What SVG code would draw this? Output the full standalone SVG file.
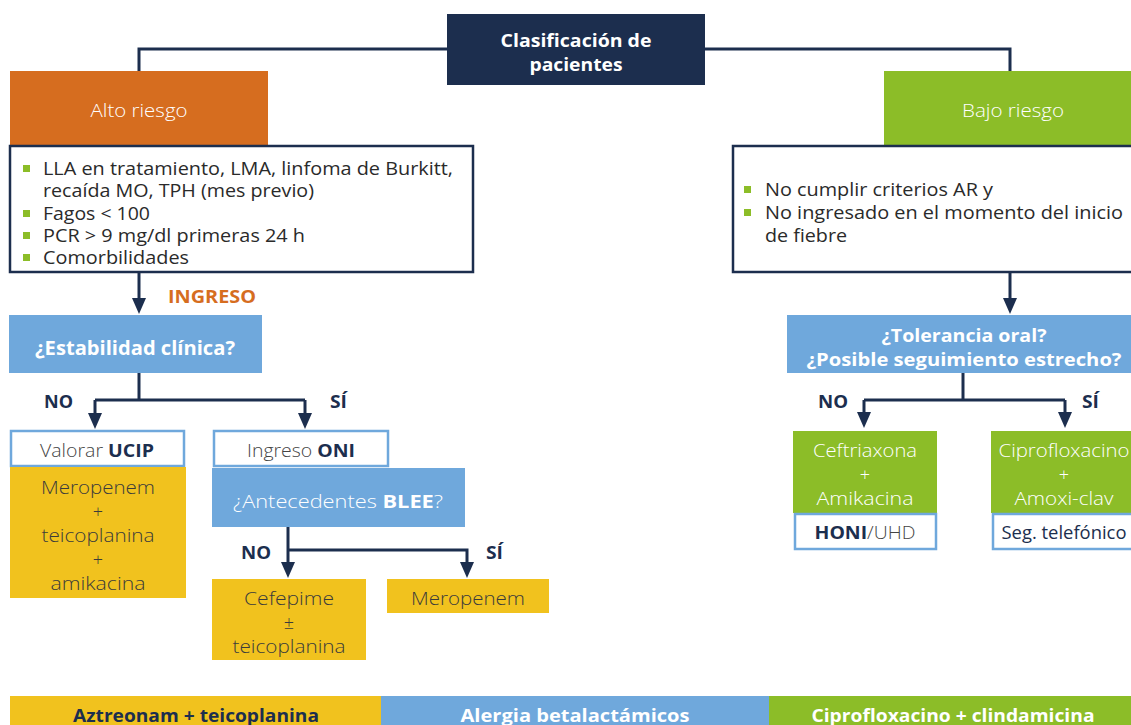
<svg xmlns="http://www.w3.org/2000/svg" width="1131" height="725" viewBox="0 0 1131 725">
<defs>
<style>
text{font-family:"Open Sans","Noto Sans","DejaVu Sans",sans-serif;}
.navy{fill:#1c2e4e}
.orange{fill:#d66d1f}
.green{fill:#8cbd28}
.blue{fill:#6fa8dc}
.yellow{fill:#f1c21e}
.list{fill:#fff;stroke:#1c2e4e;stroke-width:2.5}
.wbox{fill:#fff;stroke:#6fa8dc;stroke-width:2.5}
.wb{fill:#fff;font-weight:700;font-size:17px;text-anchor:middle}
.wl{fill:#fff;font-weight:300;font-size:18px;text-anchor:middle}
.lt{fill:#2a2a2a;font-size:18px}
.dk{fill:#3b3b3b;font-weight:300;font-size:18px;text-anchor:middle}
.lbl{fill:#1c2e4e;font-weight:700;font-size:17px}
.bul{fill:#8cbd28}
.conn{fill:none;stroke:#1c2e4e;stroke-width:3}
.bold{font-weight:700}
</style>
<marker id="ah" markerUnits="userSpaceOnUse" markerWidth="16" markerHeight="16" viewBox="0 -8 16 16" refX="0" refY="0" orient="auto">
<path d="M0,-7 L16,0 L0,7 Z" fill="#1c2e4e"/>
</marker>
</defs>
<rect width="1131" height="725" fill="#fff"/>

<g id="connectors">
<path class="conn" d="M447,49 H139 V71"/>
<path class="conn" d="M705,49 H1010 V71"/>
<path class="conn" d="M139,272 V298" marker-end="url(#ah)"/>
<path class="conn" d="M1010,272 V298" marker-end="url(#ah)"/>
<path class="conn" d="M139,373 V400"/>
<path class="conn" d="M95,400 H305"/>
<path class="conn" d="M95,400 V413" marker-end="url(#ah)"/>
<path class="conn" d="M305,400 V413" marker-end="url(#ah)"/>
<path class="conn" d="M288,527 V562" marker-end="url(#ah)"/>
<path class="conn" d="M288,550 H467 V562" marker-end="url(#ah)"/>
<path class="conn" d="M963,373 V400"/>
<path class="conn" d="M864,400 H1065"/>
<path class="conn" d="M864,400 V412" marker-end="url(#ah)"/>
<path class="conn" d="M1065,400 V412" marker-end="url(#ah)"/>
</g>

<g id="clasificacion">
<rect class="navy" x="447" y="14" width="258" height="71"/>
<text class="wb" x="576" y="47" textLength="151" lengthAdjust="spacingAndGlyphs">Clasificación de</text>
<text class="wb" x="576" y="71" textLength="93" lengthAdjust="spacingAndGlyphs">pacientes</text>
</g>

<g id="alto-riesgo">
<rect class="orange" x="10" y="71" width="258" height="74"/>
<text class="wl" x="139" y="117" textLength="97" lengthAdjust="spacingAndGlyphs">Alto riesgo</text>
</g>

<g id="alto-criterios">
<rect class="list" x="10" y="146" width="463" height="126"/>
<rect class="bul" x="23" y="165" width="7" height="7"/>
<rect class="bul" x="23" y="210" width="7" height="7"/>
<rect class="bul" x="23" y="232" width="7" height="7"/>
<rect class="bul" x="23" y="254" width="7" height="7"/>
<text class="lt" x="43" y="175" textLength="410" lengthAdjust="spacingAndGlyphs">LLA en tratamiento, LMA, linfoma de Burkitt,</text>
<text class="lt" x="43" y="197" textLength="271" lengthAdjust="spacingAndGlyphs">recaída MO, TPH (mes previo)</text>
<text class="lt" x="43" y="220" textLength="107" lengthAdjust="spacingAndGlyphs">Fagos &lt; 100</text>
<text class="lt" x="43" y="242" textLength="262" lengthAdjust="spacingAndGlyphs">PCR &gt; 9 mg/dl primeras 24 h</text>
<text class="lt" x="43" y="264" textLength="146" lengthAdjust="spacingAndGlyphs">Comorbilidades</text>
</g>

<text id="ingreso-label" x="168" y="303" textLength="88" lengthAdjust="spacingAndGlyphs" style="fill:#d66d1f;font-weight:700;font-size:17px">INGRESO</text>

<g id="estabilidad">
<rect class="blue" x="9" y="315" width="253" height="58"/>
<text class="wb" x="135" y="355" style="font-size:19px" textLength="200" lengthAdjust="spacingAndGlyphs">¿Estabilidad clínica?</text>
</g>

<text class="lbl" x="44" y="408" textLength="29" lengthAdjust="spacingAndGlyphs">NO</text>
<text class="lbl" x="330" y="408" textLength="17" lengthAdjust="spacingAndGlyphs">SÍ</text>

<g id="valorar-ucip">
<rect class="wbox" x="11" y="431" width="173" height="35"/>
<text class="dk" x="97" y="457" style="fill:#444" textLength="114" lengthAdjust="spacingAndGlyphs">Valorar <tspan class="bold" style="fill:#1c2e4e">UCIP</tspan></text>
</g>

<g id="meropenem-combo">
<rect class="yellow" x="10" y="467" width="176" height="131"/>
<text class="dk" x="98" y="494" textLength="114" lengthAdjust="spacingAndGlyphs">Meropenem</text>
<text class="dk" x="98" y="518">+</text>
<text class="dk" x="98" y="542" textLength="113" lengthAdjust="spacingAndGlyphs">teicoplanina</text>
<text class="dk" x="98" y="566">+</text>
<text class="dk" x="98" y="590" textLength="95" lengthAdjust="spacingAndGlyphs">amikacina</text>
</g>

<g id="ingreso-oni">
<rect class="wbox" x="214" y="431" width="174" height="35"/>
<text class="dk" x="301" y="457" style="fill:#444" textLength="108" lengthAdjust="spacingAndGlyphs">Ingreso <tspan class="bold" style="fill:#1c2e4e">ONI</tspan></text>
</g>

<g id="antecedentes-blee">
<rect class="blue" x="212" y="468" width="253" height="59"/>
<text class="wl" x="338" y="508" textLength="210" lengthAdjust="spacingAndGlyphs">¿Antecedentes <tspan class="bold">BLEE</tspan>?</text>
</g>

<text class="lbl" x="241" y="559" textLength="30" lengthAdjust="spacingAndGlyphs">NO</text>
<text class="lbl" x="486" y="559" textLength="17" lengthAdjust="spacingAndGlyphs">SÍ</text>

<g id="cefepime">
<rect class="yellow" x="212" y="579" width="154" height="81"/>
<text class="dk" x="289" y="605" textLength="90" lengthAdjust="spacingAndGlyphs">Cefepime</text>
<text class="dk" x="289" y="629">±</text>
<text class="dk" x="289" y="653" textLength="113" lengthAdjust="spacingAndGlyphs">teicoplanina</text>
</g>

<g id="meropenem">
<rect class="yellow" x="387" y="579" width="162" height="34"/>
<text class="dk" x="468" y="605" textLength="114" lengthAdjust="spacingAndGlyphs">Meropenem</text>
</g>

<g id="bajo-riesgo">
<rect class="green" x="884" y="71" width="247" height="74"/>
<text class="wl" x="1013" y="117" textLength="102" lengthAdjust="spacingAndGlyphs">Bajo riesgo</text>
</g>

<g id="bajo-criterios">
<rect class="list" x="733" y="146" width="400" height="126"/>
<rect class="bul" x="744" y="186" width="7" height="7"/>
<rect class="bul" x="744" y="209" width="7" height="7"/>
<text class="lt" x="765" y="196" textLength="228" lengthAdjust="spacingAndGlyphs">No cumplir criterios AR y</text>
<text class="lt" x="765" y="219" textLength="358" lengthAdjust="spacingAndGlyphs">No ingresado en el momento del inicio</text>
<text class="lt" x="765" y="242" textLength="82" lengthAdjust="spacingAndGlyphs">de fiebre</text>
</g>

<g id="tolerancia">
<rect class="blue" x="787" y="315" width="344" height="58"/>
<text class="wb" x="964" y="342" style="font-size:18px" textLength="165" lengthAdjust="spacingAndGlyphs">¿Tolerancia oral?</text>
<text class="wb" x="964" y="366" style="font-size:18px" textLength="315" lengthAdjust="spacingAndGlyphs">¿Posible seguimiento estrecho?</text>
</g>

<text class="lbl" x="818" y="408" textLength="30" lengthAdjust="spacingAndGlyphs">NO</text>
<text class="lbl" x="1082" y="408" textLength="17" lengthAdjust="spacingAndGlyphs">SÍ</text>

<g id="ceftriaxona">
<rect class="green" x="793" y="431" width="144" height="82"/>
<text class="wl" x="865" y="457" textLength="104" lengthAdjust="spacingAndGlyphs">Ceftriaxona</text>
<text class="wl" x="865" y="481">+</text>
<text class="wl" x="865" y="505" textLength="97" lengthAdjust="spacingAndGlyphs">Amikacina</text>
</g>

<g id="honi">
<rect class="wbox" x="795" y="514" width="141" height="35"/>
<text class="dk" x="865" y="539" style="fill:#444" textLength="101" lengthAdjust="spacingAndGlyphs"><tspan class="bold" style="fill:#1c2e4e">HONI</tspan>/UHD</text>
</g>

<g id="ciprofloxacino">
<rect class="green" x="991" y="431" width="140" height="82"/>
<text class="wl" x="1064" y="457" textLength="131" lengthAdjust="spacingAndGlyphs">Ciprofloxacino</text>
<text class="wl" x="1064" y="481">+</text>
<text class="wl" x="1064" y="505" textLength="99" lengthAdjust="spacingAndGlyphs">Amoxi-clav</text>
</g>

<g id="seg-telefonico">
<rect class="wbox" x="993" y="514" width="140" height="35"/>
<text x="1064" y="539" style="fill:#1c2e4e;font-size:18px;text-anchor:middle" textLength="125" lengthAdjust="spacingAndGlyphs">Seg. telefónico</text>
</g>

<g id="alergia-bar">
<rect class="yellow" x="10" y="696" width="371" height="29"/>
<rect class="blue" x="381" y="696" width="388" height="29"/>
<rect class="green" x="769" y="696" width="362" height="29"/>
<text class="wb" x="196" y="722" style="fill:#1c2e4e" textLength="246" lengthAdjust="spacingAndGlyphs">Aztreonam + teicoplanina</text>
<text class="wb" x="575" y="722" textLength="229" lengthAdjust="spacingAndGlyphs">Alergia betalactámicos</text>
<text class="wb" x="953" y="722" textLength="283" lengthAdjust="spacingAndGlyphs">Ciprofloxacino + clindamicina</text>
</g>
</svg>
